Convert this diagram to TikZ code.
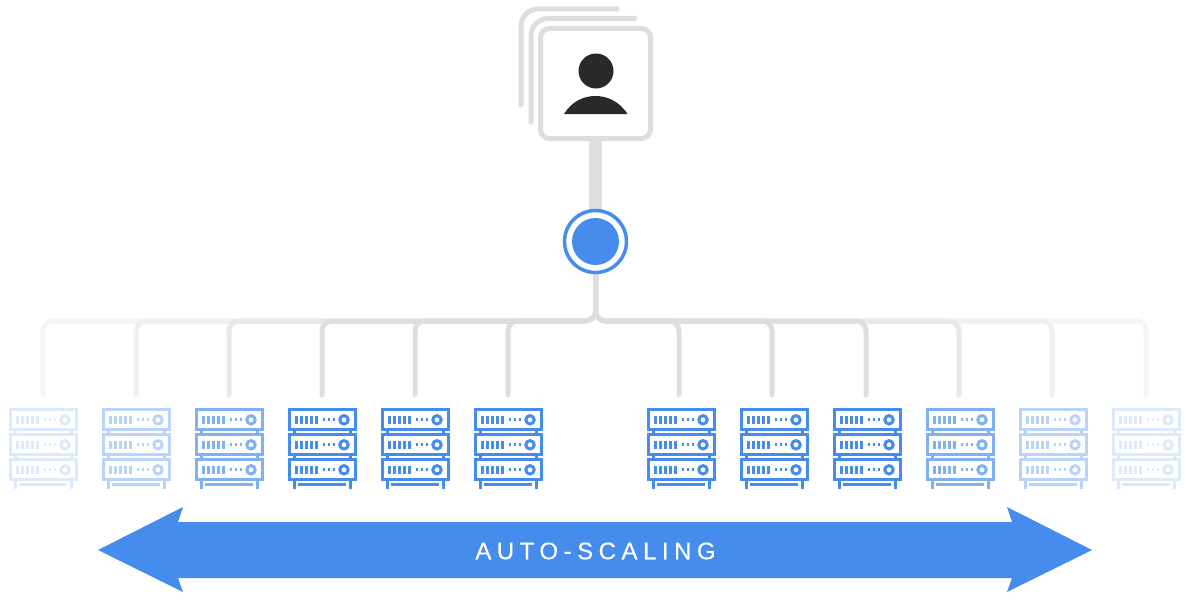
\documentclass[tikz,border=0pt]{standalone}
\usepackage{fontspec}
\setmainfont{Liberation Sans}
\usepackage{tikz}
\usetikzlibrary{backgrounds}
\definecolor{gblue}{HTML}{458CEC}
\definecolor{sheetgrey}{HTML}{DEDEDE}
\definecolor{persondark}{HTML}{292929}
\definecolor{rackfaint}{HTML}{DDEAFC}
\definecolor{rackpale}{HTML}{B9D4F8}
\definecolor{rackmid}{HTML}{7FB1F3}
\tikzset{
    rack/.pic={
        \foreach \row in {0,25,50} {
            \draw[line width=3pt] (-33,\row) rectangle (33,\row+20);
            \foreach \barx in {-26,-21,-16,-11,-6}
                \draw[line width=3pt] (\barx,\row+6.3) -- (\barx,\row+13.7);
            \foreach \dotx in {2,7,12}
                \fill (\dotx-1.3,\row+8.6) rectangle (\dotx+1.3,\row+11.4);
            \draw[line width=3pt] (22,\row+10) circle (4.2);
        }
        \draw[line width=3pt] (-28,20) -- (-28,25) (28,20) -- (28,25);
        \draw[line width=3pt] (-28,45) -- (-28,50) (28,45) -- (28,50);
        \draw[line width=3pt] (-28,70) -- (-28,79) (28,70) -- (28,79);
        \draw[line width=3pt] (-24,75) -- (24,75);
    }
}
\begin{document}
\begin{tikzpicture}[x=1pt, y=-1pt,
    sheet/.style={draw=sheetgrey, line width=5pt, line cap=round, rounded corners=17pt},
    userbox/.style={draw=sheetgrey, line width=5pt, fill=white, rounded corners=9pt,
        minimum width=110pt, minimum height=110pt, inner sep=0pt},
    head/.style={circle, fill=persondark, minimum size=35pt, inner sep=0pt},
    hub/.style={circle, draw=gblue, line width=3.5pt, fill=white, minimum size=62pt, inner sep=0pt},
    hubcore/.style={circle, fill=gblue, minimum size=47pt, inner sep=0pt},
    trunk/.style={draw=sheetgrey, line width=12.5pt},
    branch/.style={line width=5pt, line cap=round, rounded corners=10pt}
]
    \useasboundingbox (0,0) rectangle (1190,602);

    % stacked sheets behind the user
    \coordinate (sheetaa) at (521,105);
    \coordinate (sheetab) at (617,9);
    \coordinate (sheetba) at (531,122);
    \coordinate (sheetbb) at (635,18.5);
    \draw[sheet] (sheetaa) |- (sheetab);
    \draw[sheet] (sheetba) |- (sheetbb);
    \node[userbox] (user) at (595.5,83.5) {};
    \node[head] (userhead) at (596,71) {};
    \fill[persondark] (564,114) .. controls (572,101) and (584,96) .. (595.5,96)
        .. controls (607,96) and (619,101) .. (627.5,114) -- cycle;

    \node[hub] (hubring) at (595.5,241.5) {};
    \node[hubcore] (hubdisc) at (595.5,241.5) {};

    % branches, outermost first
    \coordinate (junction) at (595.5,321);
    \coordinate (tapa) at (43,395);
    \coordinate (tapb) at (136,395);
    \coordinate (tapc) at (229,395);
    \coordinate (tapd) at (322,395);
    \coordinate (tape) at (415,395);
    \coordinate (tapf) at (508,395);
    \coordinate (tapg) at (679,395);
    \coordinate (taph) at (772,395);
    \coordinate (tapi) at (866,395);
    \coordinate (tapj) at (959,395);
    \coordinate (tapk) at (1052,395);
    \coordinate (tapl) at (1146,395);
    \begin{scope}[on background layer]
        \draw[trunk] (user) -- (hubring);
        \draw[branch, draw=black!4] (hubring) -- (junction) -| (tapa);
        \draw[branch, draw=black!4] (hubring) -- (junction) -| (tapl);
        \draw[branch, draw=black!6] (hubring) -- (junction) -| (tapb);
        \draw[branch, draw=black!6] (hubring) -- (junction) -| (tapk);
        \draw[branch, draw=black!9] (hubring) -- (junction) -| (tapc);
        \draw[branch, draw=black!9] (hubring) -- (junction) -| (tapj);
        \draw[branch, draw=sheetgrey] (hubring) -- (junction) -| (tapd);
        \draw[branch, draw=sheetgrey] (hubring) -- (junction) -| (tape);
        \draw[branch, draw=sheetgrey] (hubring) -- (junction) -| (tapf);
        \draw[branch, draw=sheetgrey] (hubring) -- (junction) -| (tapg);
        \draw[branch, draw=sheetgrey] (hubring) -- (junction) -| (taph);
        \draw[branch, draw=sheetgrey] (hubring) -- (junction) -| (tapi);
    \end{scope}

    \pic[color=rackfaint] (racka) at (43,409.8) {rack};
    \pic[color=rackpale] (rackb) at (136,409.8) {rack};
    \pic[color=rackmid] (rackc) at (229,409.8) {rack};
    \pic[color=gblue] (rackd) at (322,409.8) {rack};
    \pic[color=gblue] (racke) at (415,409.8) {rack};
    \pic[color=gblue] (rackf) at (508,409.8) {rack};
    \pic[color=gblue] (rackg) at (681,409.8) {rack};
    \pic[color=gblue] (rackh) at (774,409.8) {rack};
    \pic[color=gblue] (racki) at (867,409.8) {rack};
    \pic[color=rackmid] (rackj) at (960,409.8) {rack};
    \pic[color=rackpale] (rackk) at (1053,409.8) {rack};
    \pic[color=rackfaint] (rackl) at (1146,409.8) {rack};

    % double arrow with swept heads
    \fill[gblue] (98,550) -- (183,507) -- (178,522) -- (1012,522) -- (1007,507)
        -- (1092,550) -- (1007,592) -- (1012,578) -- (178,578) -- (183,592) -- cycle;
    \node[text=white, font={\fontsize{24}{26}\selectfont\addfontfeatures{LetterSpace=23,FakeBold=0.3}}]
        (scaling) at (595.5,551) {AUTO-SCALING};
\end{tikzpicture}
\end{document}
